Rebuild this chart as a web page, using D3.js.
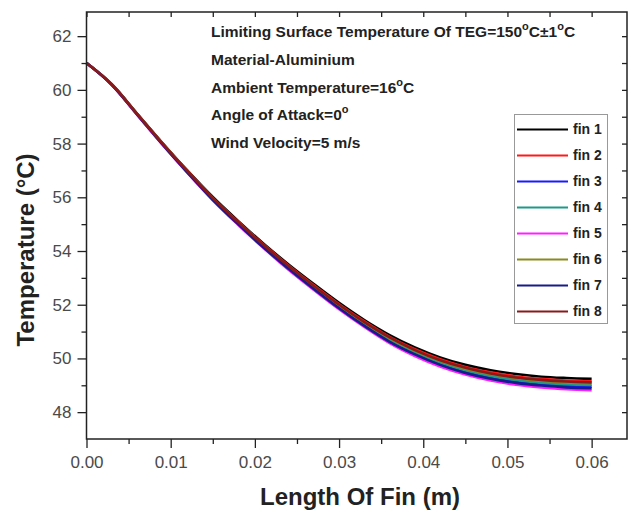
<!DOCTYPE html>
<html>
<head>
<meta charset="utf-8">
<script src="https://cdn.jsdelivr.net/npm/d3@7"></script>
<style>
  body { margin: 0; background: #fff; }
  svg { display: block; }
</style>
</head>
<body>
<svg id="chart" width="628" height="512"></svg>
<script>
// Distance along the fin (m)
const lengthOfFin = [0, 0.003, 0.006, 0.009, 0.012, 0.015, 0.018, 0.021, 0.024, 0.027, 0.030,
                     0.033, 0.036, 0.039, 0.042, 0.045, 0.048, 0.051, 0.054, 0.057, 0.060];

// Fin temperature (°C) for each fin
const fin1 = [61.00, 60.21, 59.12, 58.03, 56.99, 56.01, 55.12, 54.28, 53.50, 52.77, 52.07,
              51.43, 50.87, 50.41, 50.04, 49.76, 49.56, 49.42, 49.32, 49.27, 49.24];
const fin2 = [61.00, 60.21, 59.11, 58.02, 56.97, 55.98, 55.09, 54.25, 53.46, 52.72, 52.02,
              51.38, 50.80, 50.34, 49.97, 49.68, 49.48, 49.33, 49.24, 49.18, 49.15];
const fin3 = [61.00, 60.20, 59.09, 57.99, 56.93, 55.93, 55.02, 54.17, 53.36, 52.62, 51.90,
              51.25, 50.66, 50.19, 49.81, 49.51, 49.30, 49.15, 49.04, 48.98, 48.95];
const fin4 = [61.00, 60.20, 59.10, 58.00, 56.95, 55.94, 55.04, 54.19, 53.39, 52.65, 51.94,
              51.29, 50.71, 50.24, 49.85, 49.56, 49.35, 49.20, 49.10, 49.04, 49.01];
const fin5 = [61.00, 60.19, 59.08, 57.97, 56.91, 55.89, 54.98, 54.12, 53.30, 52.55, 51.83,
              51.17, 50.57, 50.09, 49.70, 49.40, 49.18, 49.02, 48.92, 48.85, 48.82];
const fin6 = [61.00, 60.20, 59.11, 58.01, 56.96, 55.96, 55.07, 54.22, 53.42, 52.69, 51.98,
              51.33, 50.76, 50.29, 49.91, 49.62, 49.42, 49.27, 49.17, 49.11, 49.08];
const fin7 = [61.00, 60.19, 59.09, 57.98, 56.92, 55.91, 55.00, 54.14, 53.34, 52.59, 51.87,
              51.21, 50.62, 50.15, 49.76, 49.46, 49.24, 49.09, 48.99, 48.92, 48.89];
const fin8 = [61.00, 60.20, 59.11, 58.01, 56.97, 55.97, 55.08, 54.23, 53.44, 52.70, 52.00,
              51.35, 50.78, 50.31, 49.93, 49.65, 49.44, 49.29, 49.20, 49.14, 49.11];

const seriesNames = ["fin 1", "fin 2", "fin 3", "fin 4", "fin 5", "fin 6", "fin 7", "fin 8"];
const seriesValues = [fin1, fin2, fin3, fin4, fin5, fin6, fin7, fin8];
const seriesColors = ["#000000", "#ff1a1a", "#1a1aff", "#1a9a8a", "#ff20ff", "#8a8a20", "#1a1a8a", "#8a1a1a"];

const xTickValues = [0, 0.01, 0.02, 0.03, 0.04, 0.05, 0.06];
const xMinorTicks = [0.005, 0.015, 0.025, 0.035, 0.045, 0.055];
const yTickValues = [48, 50, 52, 54, 56, 58, 60, 62];
const yMinorTicks = [49, 51, 53, 55, 57, 59, 61];

const notes = [
  [{ t: "Limiting Surface Temperature Of TEG=150" }, { t: "o", sup: true }, { t: "C\u00b11" }, { t: "o", sup: true }, { t: "C" }],
  [{ t: "Material-Aluminium" }],
  [{ t: "Ambient Temperature=16" }, { t: "o", sup: true }, { t: "C" }],
  [{ t: "Angle of Attack=0" }, { t: "o", sup: true }],
  [{ t: "Wind Velocity=5 m/s" }]
];

const FONT = "'Liberation Sans', Arial, sans-serif";
const svg = d3.select("#chart");

const plot = { left: 86.5, right: 627, top: 12, bottom: 439 };
const x = d3.scaleLinear().domain([0, 0.0642]).range([plot.left, plot.right]);
const y = d3.scaleLinear().domain([47, 62.9]).range([plot.bottom, plot.top]);

// Curves
const line = d3.line()
  .x((d, i) => x(lengthOfFin[i]))
  .y(d => y(d))
  .curve(d3.curveMonotoneX);

svg.append("g").selectAll("path")
  .data(seriesValues)
  .join("path")
  .attr("d", d => line(d))
  .attr("fill", "none")
  .attr("stroke", (d, i) => seriesColors[i])
  .attr("stroke-width", 2.6)
  .attr("stroke-linejoin", "round");

// Axes
function styleAxis(g) {
  g.select(".domain").remove();
  g.selectAll(".tick line").attr("stroke", "#222").attr("stroke-width", 1.3);
  g.selectAll(".tick text").attr("fill", "#4a4a4a").attr("font-family", FONT).attr("font-size", 17);
}

svg.append("g")
  .attr("transform", `translate(0,${plot.bottom})`)
  .call(d3.axisBottom(x).tickValues(xTickValues).tickFormat(d3.format(".2f")).tickSize(9).tickPadding(8))
  .call(styleAxis);
svg.append("g")
  .attr("transform", `translate(0,${plot.bottom})`)
  .call(d3.axisBottom(x).tickValues(xMinorTicks).tickFormat("").tickSize(5))
  .call(styleAxis);

svg.append("g")
  .attr("transform", `translate(${plot.left},0)`)
  .call(d3.axisLeft(y).tickValues(yTickValues).tickFormat(d3.format("d")).tickSize(9).tickPadding(6))
  .call(styleAxis);
svg.append("g")
  .attr("transform", `translate(${plot.left},0)`)
  .call(d3.axisLeft(y).tickValues(yMinorTicks).tickFormat("").tickSize(5))
  .call(styleAxis);

// Inward ticks on top and right edges
svg.append("g")
  .attr("transform", `translate(0,${plot.top})`)
  .call(d3.axisBottom(x).tickValues(xTickValues.concat(xMinorTicks)).tickFormat("").tickSize(5))
  .call(styleAxis);
svg.append("g")
  .attr("transform", `translate(${plot.right},0)`)
  .call(d3.axisLeft(y).tickValues(yTickValues.concat(yMinorTicks)).tickFormat("").tickSize(5))
  .call(styleAxis);

// Frame
svg.append("rect")
  .attr("x", plot.left).attr("y", plot.top)
  .attr("width", plot.right - plot.left).attr("height", plot.bottom - plot.top)
  .attr("fill", "none").attr("stroke", "#222").attr("stroke-width", 1.5);

// Axis titles
svg.append("text")
  .attr("x", 360).attr("y", 505)
  .attr("text-anchor", "middle")
  .attr("font-family", FONT).attr("font-weight", "bold").attr("font-size", 24)
  .attr("fill", "#222")
  .text("Length Of Fin (m)");

svg.append("text")
  .attr("transform", "translate(34,250) rotate(-90)")
  .attr("text-anchor", "middle")
  .attr("font-family", FONT).attr("font-weight", "bold").attr("font-size", 24)
  .attr("fill", "#222")
  .text("Temperature (\u00b0C)");

// Condition notes
const noteG = svg.append("g")
  .attr("font-family", FONT).attr("font-weight", "bold").attr("font-size", 15.5).attr("fill", "#222");
notes.forEach((parts, i) => {
  const t = noteG.append("text").attr("x", 211).attr("y", 37 + i * 27.8);
  parts.forEach((p, j) => {
    const s = t.append("tspan").text(p.t);
    if (p.sup) s.attr("font-size", 11).attr("dy", -7);
    else if (j > 0 && parts[j - 1].sup) s.attr("dy", 7);
  });
});

// Legend
const legend = svg.append("g");
legend.append("rect")
  .attr("x", 514.5).attr("y", 114.5).attr("width", 93).attr("height", 209)
  .attr("fill", "#fff").attr("stroke", "#999").attr("stroke-width", 1);
const items = legend.selectAll("g.item")
  .data(seriesNames)
  .join("g")
  .attr("class", "item")
  .attr("transform", (d, i) => `translate(0,${129.5 + i * 26})`);
items.append("line")
  .attr("x1", 517).attr("x2", 568)
  .attr("stroke", (d, i) => seriesColors[i]).attr("stroke-width", 2.2);
items.append("text")
  .attr("x", 573).attr("dy", "0.35em")
  .attr("font-family", FONT).attr("font-weight", "bold").attr("font-size", 14)
  .attr("fill", "#222")
  .text(d => d);
</script>
</body>
</html>
